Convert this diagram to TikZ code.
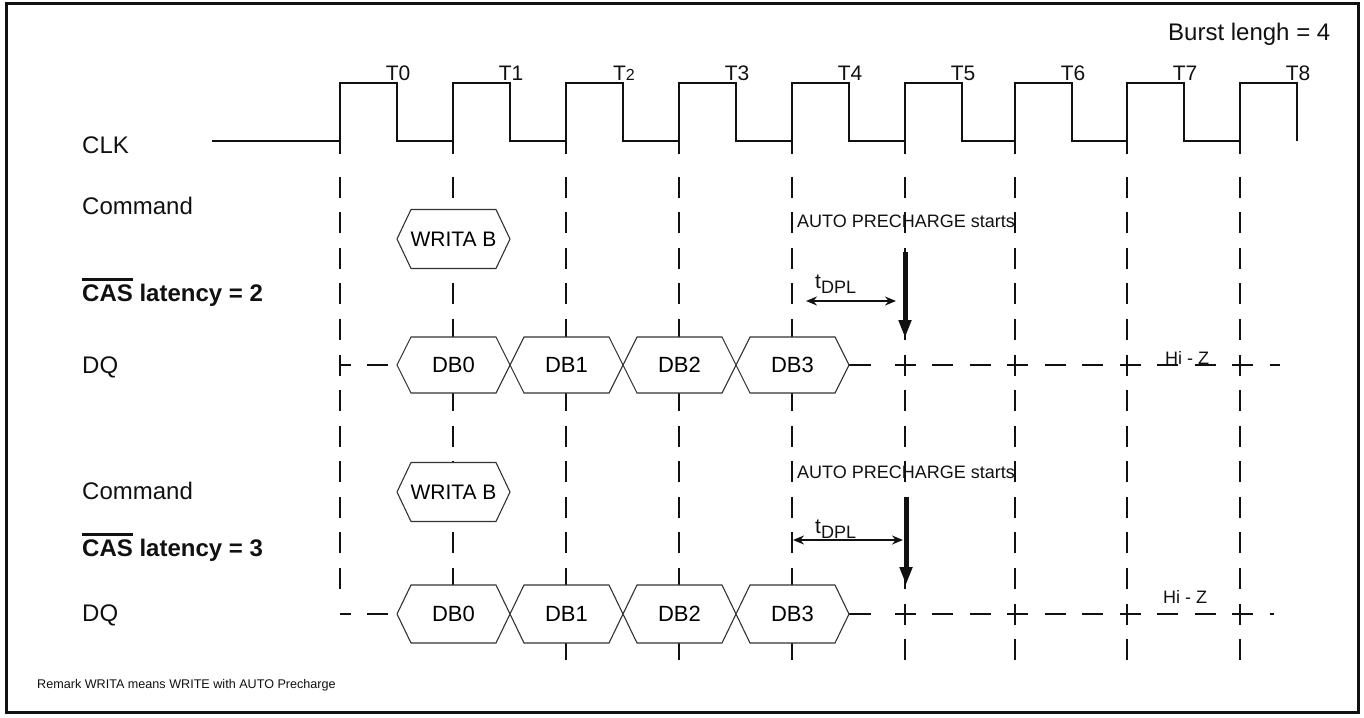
\documentclass[tikz,border=0pt]{standalone}
\usepackage{fontspec}
\setmainfont{Liberation Sans}
\usetikzlibrary{arrows.meta}
\newcommand\myovl[1]{\sbox0{#1}\rlap{\rule[\dimexpr\ht0+3.5pt\relax]{\wd0}{2.5pt}}\usebox0}
\newcommand\hexa[7]{% name, left, right, y, half height, text, font size
  \filldraw[hexs] (#2,#4) -- (#2+14,#4-#5) -- (#3-14,#4-#5) -- (#3,#4) -- (#3-14,#4+#5) -- (#2+14,#4+#5) -- cycle;
  \node[inner sep=0pt,font=\fontsize{#7}{#7}\selectfont] (#1) at ({(#2+#3)/2},#4) {#6};}
\definecolor{ink}{HTML}{111111}
\begin{document}
\begin{tikzpicture}[x=1pt,y=-1pt,
  lbl/.style={anchor=base west,inner sep=0pt,text=ink,font=\fontsize{24}{28}\selectfont},
  tlbl/.style={anchor=base,inner sep=0pt,text=ink,font=\fontsize{21}{24}\selectfont},
  small/.style={anchor=west,inner sep=0pt,text=ink,font=\fontsize{18}{20}\selectfont},
  clkl/.style={line width=2pt,draw=ink,line cap=butt},
  vgrid/.style={line width=2pt,draw=ink,dash pattern=on 21pt off 14.571pt,dash phase=23.93pt},
  hgrid/.style={line width=2pt,draw=ink,dash pattern=on 21pt off 16.5pt},
  hexs/.style={fill=white,draw=black!80,line width=1.1pt,line join=miter},
  bigarrow/.style={line width=5pt,draw=ink,-{Triangle[length=18pt,width=12pt]}},
  dblarrow/.style={line width=1.8pt,draw=ink,{Stealth[length=11pt,width=9pt]}-{Stealth[length=11pt,width=9pt]}}
]
\useasboundingbox (0,0) rectangle (1364,717);
\draw[line width=3pt,draw=ink] (6,4) rectangle (1358,712);

% title
\node[lbl] (burst) at (1168,41) {Burst lengh = 4};

% clock
\draw[clkl] (212,141) -| (340,83) -| (397,141) -| (453,83) -| (510,141) -| (566,83) -| (623,141) -| (679,83) -| (736,141) -| (792,83) -| (849,141) -| (905,83) -| (962,141) -| (1015,83) -| (1072,141) -| (1127,83) -| (1184,141) -| (1240,83) -| (1297,83) -- (1297,141);
\foreach \x in {340,453,566,679,792,905,1015,1127,1240}
  \draw[clkl] (\x,140) -- (\x,154);
\foreach \x/\t in {397/T0,510/T1,736/T3,849/T4,962/T5,1072/T6,1184/T7,1297/T8}
  \node[tlbl] (lab\t) at (\x+1,80) {\t};
\node[tlbl] (labT2) at (624,80) {T{\fontsize{16}{16}\selectfont 2}};

% vertical grid lines
\foreach \x/\e in {340/600,453/590,566/660,679/660,792/660,905/660,1015/660,1127/660,1240/660}
  \draw[vgrid] (\x,165) -- (\x,\e);

% DQ horizontal lines
\foreach \y/\e in {365/1280,614/1274}{
  \draw[hgrid,dash phase=10.5pt] (340,\y) -- (397,\y);
  \draw[line width=2pt,draw=ink] (849,\y) -- (871,\y);
  \draw[hgrid] (894.5,\y) -- (\e,\y);
}

% row labels
\node[lbl] (clk) at (82,153) {CLK};
\node[lbl] (cmd1) at (82,214) {Command};
\node[lbl,font=\fontsize{24}{28}\selectfont\bfseries] (cas2) at (82,301) {\myovl{CAS} latency = 2};
\node[lbl] (dq1) at (82,373) {DQ};
\node[lbl] (cmd2) at (82,499) {Command};
\node[lbl,font=\fontsize{24}{28}\selectfont\bfseries] (cas3) at (82,556) {\myovl{CAS} latency = 3};
\node[lbl] (dq2) at (82,621) {DQ};
\node[anchor=base west,inner sep=0pt,text=ink,font=\fontsize{12.6}{15}\selectfont] (remark) at (37,688) {Remark WRITA means WRITE with AUTO Precharge};

% boxes, first panel
\hexa{wr1}{397}{510}{239}{29.5}{WRITA B}{21}
\hexa{db10}{397}{510}{365}{28}{DB0}{22}
\hexa{db11}{510}{623}{365}{28}{DB1}{22}
\hexa{db12}{623}{736}{365}{28}{DB2}{22}
\hexa{db13}{736}{849}{365}{28}{DB3}{22}

% boxes, second panel
\hexa{wr2}{397}{510}{492}{29.5}{WRITA B}{21}
\hexa{db20}{397}{510}{614}{29}{DB0}{22}
\hexa{db21}{510}{623}{614}{29}{DB1}{22}
\hexa{db22}{623}{736}{614}{29}{DB2}{22}
\hexa{db23}{736}{849}{614}{29}{DB3}{22}

% auto precharge, first panel
\node[small] (ap1) at (797,221) {AUTO PRECHARGE starts};
\coordinate (a1s) at (905,252);
\coordinate (a1e) at (905,338);
\draw[bigarrow] (a1s) -- (a1e);
\node[anchor=base west,inner sep=0pt,text=ink,font=\fontsize{21}{24}\selectfont] (tdpl1) at (815,288) {t\raisebox{-5pt}{\fontsize{18}{18}\selectfont DPL}};
\coordinate (d1a) at (806,301);
\coordinate (d1b) at (896,301);
\draw[dblarrow] (d1a) -- (d1b);
\node[anchor=base west,inner sep=0pt,text=ink,font=\fontsize{18}{20}\selectfont] (hiz1) at (1165,364) {Hi - Z};

% auto precharge, second panel
\node[small] (ap2) at (797,472) {AUTO PRECHARGE starts};
\coordinate (a2s) at (906,497);
\coordinate (a2e) at (906,585);
\draw[bigarrow] (a2s) -- (a2e);
\node[anchor=base west,inner sep=0pt,text=ink,font=\fontsize{21}{24}\selectfont] (tdpl2) at (815,533) {t\raisebox{-5pt}{\fontsize{18}{18}\selectfont DPL}};
\coordinate (d2a) at (793,540);
\coordinate (d2b) at (903,540);
\draw[dblarrow] (d2a) -- (d2b);
\node[anchor=base west,inner sep=0pt,text=ink,font=\fontsize{18}{20}\selectfont] (hiz2) at (1163,603) {Hi - Z};
\end{tikzpicture}
\end{document}
